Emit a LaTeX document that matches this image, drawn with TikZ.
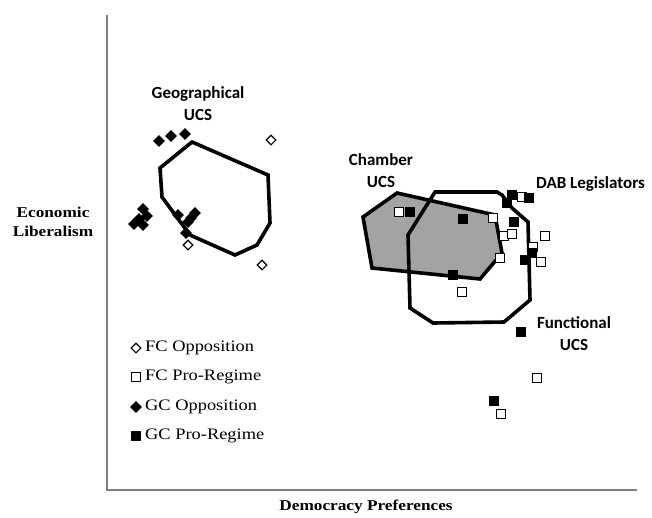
\documentclass[tikz,border=0pt]{standalone}
\usepackage{fontspec}
\setmainfont{Liberation Serif}
\newfontfamily\garafont[FakeStretch=1.15]{Liberation Serif}
\newfontfamily\lblfont{Carlito}
\usetikzlibrary{shapes.geometric}
\definecolor{axisgray}{RGB}{128,128,128}
\definecolor{chambergray}{RGB}{163,163,163}
\tikzset{
  wdia/.style={diamond,draw=black,fill=white,line width=1.1pt,minimum width=10pt,minimum height=10pt,inner sep=0pt},
  bdia/.style={diamond,draw=black,fill=black,line width=0.6pt,minimum width=11pt,minimum height=11pt,inner sep=0pt},
  wsq/.style={rectangle,draw=black,fill=white,line width=1.2pt,minimum size=8.5pt,inner sep=0pt},
  bsq/.style={rectangle,draw=black,fill=black,line width=0.6pt,minimum size=9.5pt,inner sep=0pt},
  hull/.style={line width=3.6pt,line join=miter,black},
  grouplbl/.style={font=\lblfont\bfseries\fontsize{17}{22}\selectfont,align=center,inner sep=0pt},
  axislbl/.style={font=\garafont\bfseries\fontsize{15}{19}\selectfont,align=center,inner sep=0pt},
  legtxt/.style={font=\garafont\fontsize{16}{19}\selectfont,anchor=west,inner sep=0pt},
  axisline/.style={draw=axisgray,line width=1.3pt}
}
\begin{document}
\begin{tikzpicture}[x=1pt,y=-1pt]
\useasboundingbox (0,0) rectangle (652,517);
% axes
\coordinate (ytop) at (107,15);
\coordinate (orig) at (107,490);
\coordinate (xend) at (637,490);
\draw[axisline] (ytop) -- (orig) -- (xend);
\node[axislbl] (ylab) at (53,222) {Economic\\Liberalism};
\node[axislbl] (xlab) at (366,507) {Democracy Preferences};

% chamber UCS (filled)
\fill[chambergray] (397,193) -- (495,215) -- (502,253) -- (480,279) -- (372,268) -- (363,217) -- cycle;
\draw[hull] (397,193) -- (495,215) -- (502,253) -- (480,279) -- (372,268) -- (363,217) -- cycle;
% functional UCS
\draw[hull] (435,192) -- (497,192) -- (502,195) -- (512,208) -- (528,222) -- (530,300) -- (504,322) -- (433,323) -- (410,308) -- (408,235) -- cycle;
% geographical UCS
\draw[hull] (192,142) -- (268,175) -- (270,223) -- (257,245) -- (235,255) -- (190,235) -- (162,197) -- (160,168) -- cycle;

% group labels
\node[grouplbl] (geolab) at (198,104) {Geographical\\UCS};
\node[grouplbl] (chamlab) at (381,171) {Chamber\\UCS};
\node[grouplbl,anchor=west] (dablab) at (536,184) {DAB Legislators};
\node[grouplbl] (funclab) at (574,334) {Functional\\UCS};

% GC opposition (black diamonds)
\foreach \x/\y [count=\i] in {159/141,171/136,185/134,143/209,147/216,139/219,134/224,143/225,178/215,188/222,191/218,195/213,186/233}
  \node[bdia] (bd\i) at (\x,\y) {};
% FC opposition (white diamonds)
\foreach \x/\y [count=\i] in {271/140,188/245,262/265}
  \node[wdia] (wd\i) at (\x,\y) {};
% FC pro-regime (white squares)
\foreach \x/\y [count=\i] in {399/212,493/218,504/236,512/234,545/236,533/247,541/262,500/258,462/292,522/197,537/378,501/414}
  \node[wsq] (ws\i) at (\x,\y) {};
% GC pro-regime (black squares)
\foreach \x/\y [count=\i] in {410/212,463/219,453/275,514/222,512/195,507/203,529/198,532/253,525/260,521/332,494/401}
  \node[bsq] (bs\i) at (\x,\y) {};

% legend
\node[wdia] (lg1) at (136,348) {};
\node[legtxt] (lt1) at (145,348) {FC Opposition};
\node[wsq] (lg2) at (136,377) {};
\node[legtxt] (lt2) at (145,377) {FC Pro-Regime};
\node[bdia] (lg3) at (136,407) {};
\node[legtxt] (lt3) at (145,407) {GC Opposition};
\node[bsq] (lg4) at (136,436) {};
\node[legtxt] (lt4) at (145,436) {GC Pro-Regime};
\end{tikzpicture}
\end{document}
